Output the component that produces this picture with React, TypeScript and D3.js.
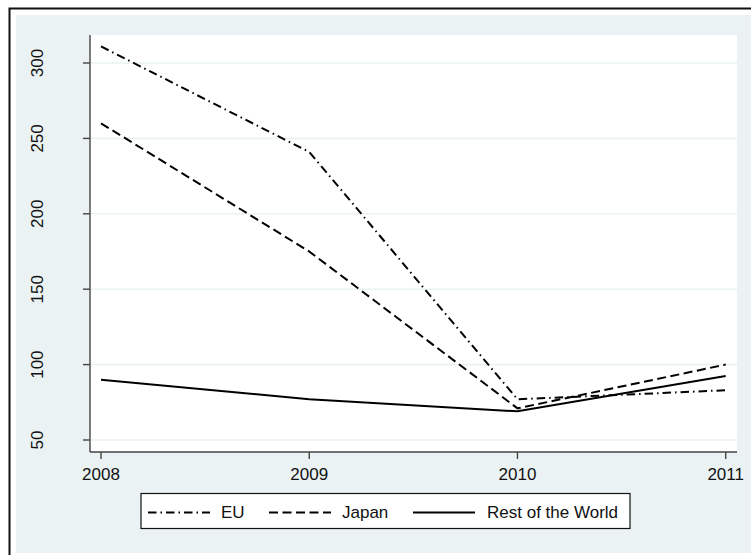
import * as d3 from "d3";

const years = [2008, 2009, 2010, 2011];
const euValues = [311, 241, 77, 83];
const japanValues = [260, 175, 71, 100];
const rowValues = [90, 77, 69, 92.5];
const yTicks = [50, 100, 150, 200, 250, 300];

const seriesList = [
  { name: "EU", values: euValues, dash: "8.5,4,1.5,4" },
  { name: "Japan", values: japanValues, dash: "9,4.5" },
  { name: "Rest of the World", values: rowValues, dash: "" },
];

const W = 751;
const H = 555;
const font = "'Liberation Sans', Arial, sans-serif";
const bg = "#eaf2f3";

export default function App() {
  const plot = { left: 90, top: 35, right: 737, bottom: 452 };
  const x = d3.scaleLinear().domain([2008, 2011]).range([101, 725.7]);
  const y = d3.scaleLinear().domain([50, 300]).range([440, 63]);

  const line = d3
    .line<number>()
    .x((_, i) => x(years[i]))
    .y((d) => y(d));

  // legend layout
  const legend = { x: 141, y: 493.5, w: 489, h: 35 };
  const legendItems = [
    { lx: 148, tx: 221 },
    { lx: 269, tx: 342 },
    { lx: 413, tx: 487 },
  ];

  return (
    <svg
      width={W}
      height={H}
      style={{ position: "absolute", left: 0, top: 0, display: "block" }}
      fontFamily={font}
    >
      <rect x={0} y={0} width={W} height={H} fill="#fff" />
      {/* outer frame */}
      <rect x={9.5} y={8.5} width={W + 20} height={H + 20} fill="#fff" stroke="#111" strokeWidth={2} />
      <rect x={16} y={15} width={W + 10} height={538} fill={bg} />
      {/* plot area */}
      <rect
        x={plot.left}
        y={plot.top}
        width={plot.right - plot.left}
        height={plot.bottom - plot.top}
        fill="#fff"
      />
      {yTicks.map((t) => (
        <line
          key={"g" + t}
          x1={plot.left}
          x2={plot.right}
          y1={y(t)}
          y2={y(t)}
          stroke={bg}
          strokeWidth={1.6}
        />
      ))}
      {/* y axis */}
      <line x1={plot.left} x2={plot.left} y1={plot.top} y2={plot.bottom} stroke="#444" strokeWidth={1.4} />
      {yTicks.map((t) => (
        <g key={"y" + t}>
          <line x1={plot.left - 7} x2={plot.left} y1={y(t)} y2={y(t)} stroke="#444" strokeWidth={1.4} />
          <text
            transform={`translate(43,${y(t)}) rotate(-90)`}
            textAnchor="middle"
            fontSize={17}
            fill="#111"
          >
            {t}
          </text>
        </g>
      ))}
      {/* x axis */}
      <line x1={plot.left} x2={plot.right} y1={plot.bottom} y2={plot.bottom} stroke="#444" strokeWidth={1.4} />
      {years.map((yr) => (
        <g key={"x" + yr}>
          <line x1={x(yr)} x2={x(yr)} y1={plot.bottom} y2={plot.bottom + 7} stroke="#444" strokeWidth={1.4} />
          <text x={x(yr)} y={480} textAnchor="middle" fontSize={17} fill="#111">
            {yr}
          </text>
        </g>
      ))}
      {/* series */}
      {seriesList.map((s) => (
        <path
          key={s.name}
          d={line(s.values) || ""}
          fill="none"
          stroke="#000"
          strokeWidth={2}
          strokeDasharray={s.dash || undefined}
        />
      ))}
      {/* legend */}
      <rect x={legend.x} y={legend.y} width={legend.w} height={legend.h} fill="#fff" stroke="#111" strokeWidth={1.2} />
      {seriesList.map((s, i) => (
        <g key={"l" + s.name}>
          <line
            x1={legendItems[i].lx}
            x2={legendItems[i].lx + 62}
            y1={512.5}
            y2={512.5}
            stroke="#000"
            strokeWidth={2}
            strokeDasharray={s.dash || undefined}
          />
          <text x={legendItems[i].tx} y={517.5} fontSize={17} fill="#111">
            {s.name}
          </text>
        </g>
      ))}
    </svg>
  );
}
